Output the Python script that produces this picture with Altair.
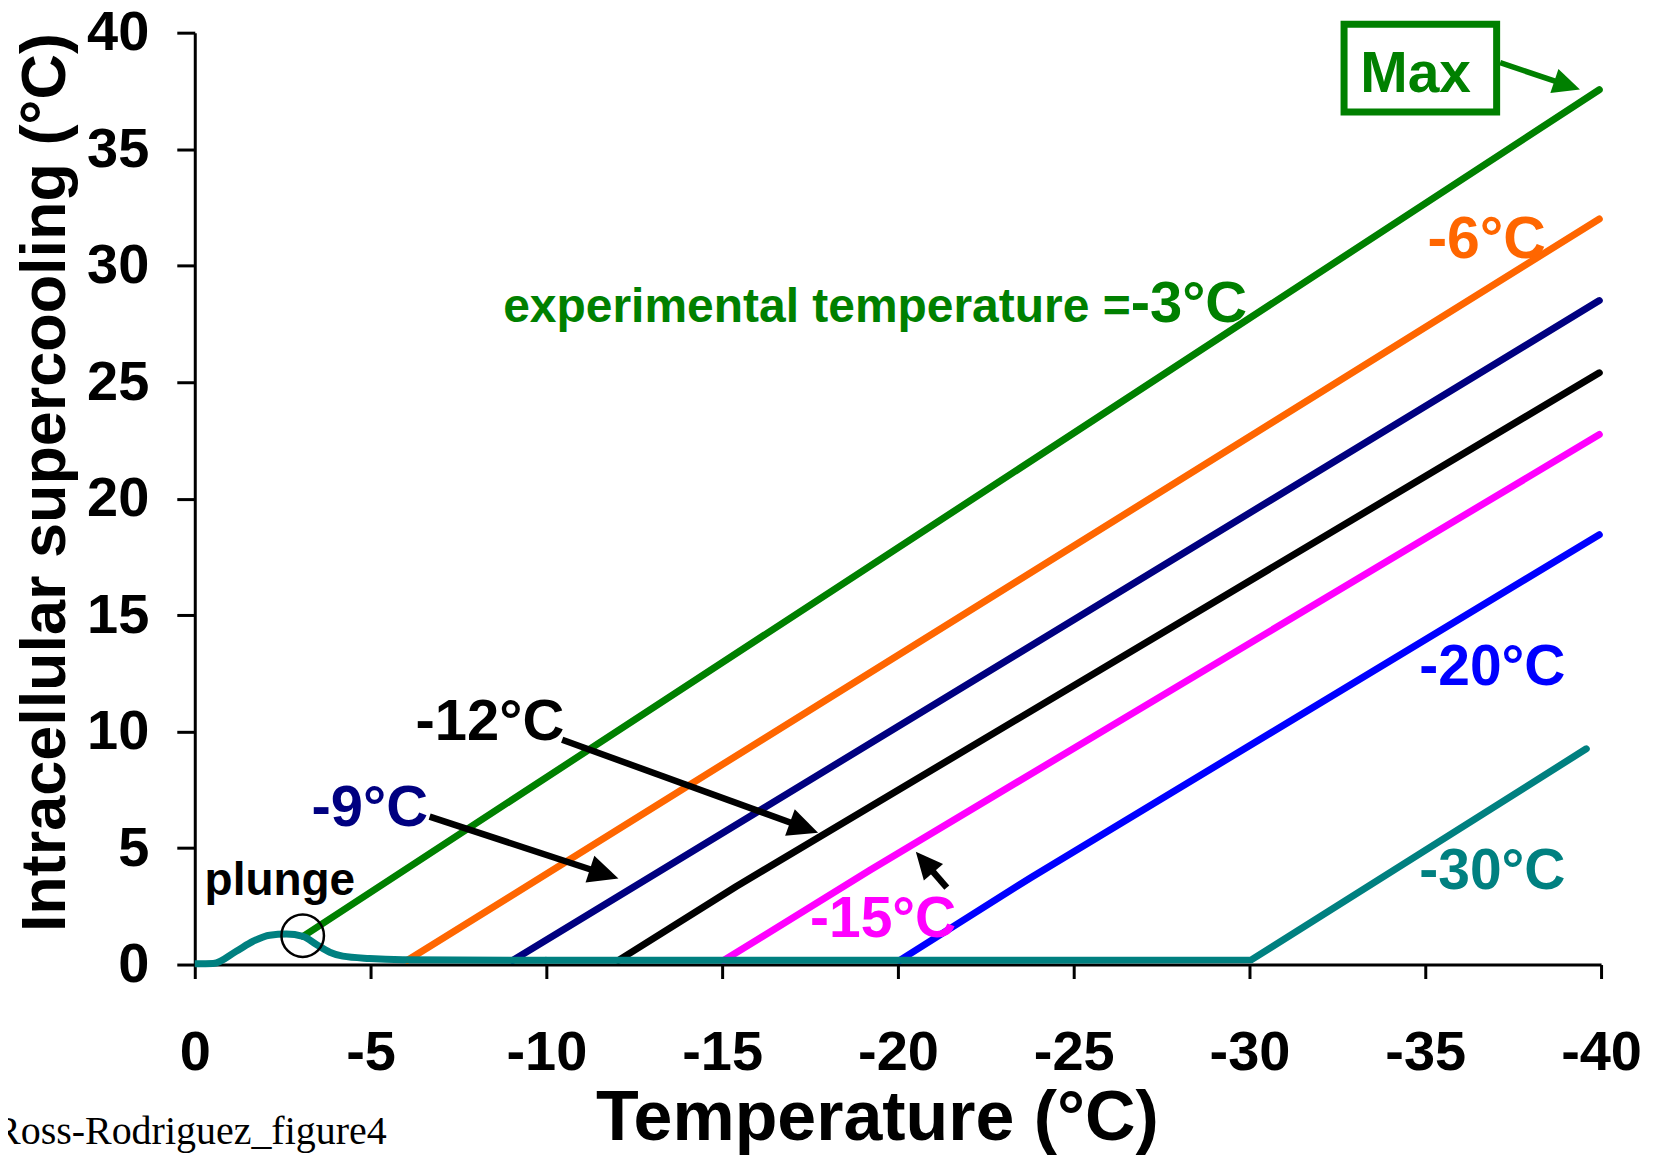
import math
import altair as alt
import pandas as pd

# ---------------- data ----------------
x_ticks = [0, -5, -10, -15, -20, -25, -30, -35, -40]
y_ticks = [0, 5, 10, 15, 20, 25, 30, 35, 40]

GREEN = "#008000"
ORANGE = "#FF6600"
NAVY = "#000080"
BLACK = "#000000"
MAGENTA = "#FF00FF"
BLUE = "#0000FF"
TEAL = "#008080"

series_names = ["-3°C", "-6°C", "-9°C", "-12°C", "-15°C", "-20°C"]
series_colors = [GREEN, ORANGE, NAVY, BLACK, MAGENTA, BLUE]

green_x = [-3.08, -39.95]
green_y = [1.21, 37.55]
orange_x = [-6.05, -39.95]
orange_y = [0.18, 32.0]
navy_x = [-9.05, -39.95]
navy_y = [0.18, 28.5]
black_x = [-12.05, -15.4, -39.95]
black_y = [0.18, 3.35, 25.4]
magenta_x = [-15.05, -19.2, -39.95]
magenta_y = [0.18, 4.05, 22.75]
blue_x = [-20.05, -23.8, -39.95]
blue_y = [0.18, 3.75, 18.45]

# -30 °C curve: plunge bump part (smooth) and the rest
bump_x = [0, -0.52, -1.18, -1.66, -2.13, -2.6, -3.08, -3.46, -3.84, -4.21, -4.97, -5.92, -10]
bump_y = [0.03, 0.04, 0.57, 1.0, 1.26, 1.31, 1.21, 0.86, 0.53, 0.36, 0.26, 0.21, 0.18]
teal_x = [-10, -20, -30.05, -39.58]
teal_y = [0.18, 0.18, 0.2, 9.26]

# labels (left aligned, bold)
label_text = ["-3°C", "-6°C", "-9°C", "-12°C", "-15°C", "-20°C", "-30°C", "plunge", "Max"]
label_x = [-26.62, -35.06, -3.32, -6.28, -17.5, -34.83, -34.83, -0.28, -33.15]
label_y = [27.57, 30.31, 5.96, 9.65, 1.2, 12.0, 3.26, 3.0, 37.47]
label_color = [GREEN, ORANGE, NAVY, BLACK, MAGENTA, BLUE, TEAL, BLACK, GREEN]
label_size = [58, 59, 58, 58, 57, 57, 57, 46, 57]

exp_text = ["experimental temperature ="]
exp_x = [-26.62]
exp_y = [27.57]

note_text = ["Ross-Rodriguez_figure4"]
note_x = [5.71]
note_y = [-7.72]

# arrows
arrow_x_start = [-37.13, -10.45, -6.68, -21.39]
arrow_y_start = [38.71, 9.65, 6.35, 3.30]
arrow_x_tip = [-39.40, -17.73, -12.05, -20.51]
arrow_y_tip = [37.56, 5.66, 3.69, 4.84]
arrow_color = [GREEN, BLACK, BLACK, BLACK]
arrow_width = [5.5, 6.5, 6.5, 6.5]
arrow_head = [27, 30, 30, 27]

# Max box
box_x = [-32.69]
box_x2 = [-37.03]
box_y = [40.36]
box_y2 = [36.59]

# plunge circle
circle_x = [-3.07]
circle_y = [1.24]

# ---------------- layout ----------------
W, H = 1408, 933
FONT = "Liberation Sans"
LW = 7

lines_rows = []
for name, xs, ys in zip(series_names,
                        [green_x, orange_x, navy_x, black_x, magenta_x, blue_x],
                        [green_y, orange_y, navy_y, black_y, magenta_y, blue_y]):
    for i, (a, b) in enumerate(zip(xs, ys)):
        lines_rows.append({"series": name, "x": a, "y": b, "idx": i})
lines_df = pd.DataFrame(lines_rows)

bump_df = pd.DataFrame({"x": bump_x, "y": bump_y, "idx": list(range(len(bump_x)))})
teal_df = pd.DataFrame({"x": teal_x, "y": teal_y, "idx": list(range(len(teal_x)))})

kx = W / 40.0
ky = H / 40.0
shaft_rows, head_rows = [], []
for xs, ys, xt, yt, c, w, hl in zip(arrow_x_start, arrow_y_start, arrow_x_tip, arrow_y_tip,
                                    arrow_color, arrow_width, arrow_head):
    dpx = -(xt - xs) * kx
    dpy = -(yt - ys) * ky
    L = math.hypot(dpx, dpy)
    ux, uy = dpx / L, dpy / L
    ang = math.degrees(math.atan2(ux, -uy)) % 360
    xe = xt + ux * hl * 0.6 / kx
    ye = yt + uy * hl * 0.6 / ky
    shaft_rows.append({"x": xs, "y": ys, "x2": xe, "y2": ye, "c": c, "w": w})
    head_rows.append({"x": xt, "y": yt, "c": c, "ang": ang, "s": (2 * hl) ** 2})
shaft_df = pd.DataFrame(shaft_rows)
head_df = pd.DataFrame(head_rows)

labels_df = pd.DataFrame({"t": label_text, "x": label_x, "y": label_y,
                          "c": label_color, "fs": label_size})
exp_df = pd.DataFrame({"t": exp_text, "x": exp_x, "y": exp_y})
note_df = pd.DataFrame({"t": note_text, "x": note_x, "y": note_y})
box_df = pd.DataFrame({"x": box_x, "x2": box_x2, "y": box_y, "y2": box_y2})
circle_df = pd.DataFrame({"x": circle_x, "y": circle_y})

X_ENC = alt.X(
    "x:Q",
    scale=alt.Scale(domain=[0, -40], nice=False, zero=False),
    axis=alt.Axis(
        values=x_ticks, labelExpr="'' + datum.value", title="Temperature (°C)",
        grid=False, domainColor="black", domainWidth=3, tickColor="black", tickWidth=3,
        tickSize=14, labelFont=FONT, labelFontWeight="bold", labelFontSize=56,
        labelColor="black", labelPadding=47, labelFlush=False, labelOverlap=False,
        titleFont=FONT, titleFontWeight="bold", titleFontSize=70, titleColor="black",
        titleX=683, titleY=175, titleAlign="center", titleBaseline="alphabetic",
    ),
)
Y_ENC = alt.Y(
    "y:Q",
    scale=alt.Scale(domain=[0, 40], nice=False, zero=False),
    axis=alt.Axis(
        values=y_ticks, title="Intracellular supercooling (°C)",
        grid=False, domainColor="black", domainWidth=3, tickColor="black", tickWidth=3,
        tickSize=18, labelFont=FONT, labelFontWeight="bold", labelFontSize=56,
        labelColor="black", labelPadding=28, labelFlush=False, labelOverlap=False,
        titleFont=FONT, titleFontWeight="bold", titleFontSize=63, titleColor="black",
        titleAngle=270, titleX=-130, titleY=450, titleAlign="center",
        titleBaseline="alphabetic",
    ),
)

lines = alt.Chart(lines_df).mark_line(strokeWidth=LW, strokeCap="round", strokeJoin="round").encode(
    x=X_ENC, y=Y_ENC,
    color=alt.Color("series:N", scale=alt.Scale(domain=series_names, range=series_colors), legend=None),
    order=alt.Order("idx:Q"),
)

bump = alt.Chart(bump_df).mark_line(
    strokeWidth=LW, strokeCap="butt", strokeJoin="round", color=TEAL, interpolate="monotone"
).encode(x=X_ENC, y=Y_ENC, order=alt.Order("idx:Q"))

teal = alt.Chart(teal_df).mark_line(strokeWidth=LW, strokeCap="round", strokeJoin="round", color=TEAL).encode(
    x=X_ENC, y=Y_ENC, order=alt.Order("idx:Q"),
)

shafts = alt.Chart(shaft_df).mark_rule(strokeCap="butt").encode(
    x=X_ENC, y=Y_ENC, x2="x2:Q", y2="y2:Q",
    color=alt.Color("c:N", scale=None),
    strokeWidth=alt.StrokeWidth("w:Q", scale=None),
)

heads = alt.Chart(head_df).mark_point(
    shape="M0,0L0.47,1L-0.47,1Z", filled=True, opacity=1, strokeWidth=0
).encode(
    x=X_ENC, y=Y_ENC,
    color=alt.Color("c:N", scale=None),
    angle=alt.Angle("ang:Q", scale=None),
    size=alt.Size("s:Q", scale=None),
)

labels = alt.Chart(labels_df).mark_text(
    font=FONT, fontWeight="bold", align="left", baseline="alphabetic"
).encode(
    x=X_ENC, y=Y_ENC, text="t:N",
    color=alt.Color("c:N", scale=None),
    size=alt.Size("fs:Q", scale=None),
)

exp_label = alt.Chart(exp_df).mark_text(
    font=FONT, fontWeight="bold", align="right", baseline="alphabetic", fontSize=48, color=GREEN
).encode(x=X_ENC, y=Y_ENC, text="t:N")

note = alt.Chart(note_df).mark_text(
    font="Liberation Serif", align="left", baseline="alphabetic", fontSize=40, color="black"
).encode(x=X_ENC, y=Y_ENC, text="t:N")

box = alt.Chart(box_df).mark_rect(fillOpacity=0, stroke=GREEN, strokeWidth=7).encode(
    x=X_ENC, y=Y_ENC, x2="x2:Q", y2="y2:Q"
)

circle = alt.Chart(circle_df).mark_point(
    shape="circle", filled=False, color="black", strokeWidth=2.5, size=1810, opacity=1
).encode(x=X_ENC, y=Y_ENC)

chart = alt.layer(
    lines, teal, bump, shafts, heads, box, labels, exp_label, note, circle
).properties(
    width=W, height=H,
    autosize=alt.AutoSizeParams(type="none"),
    padding={"left": 187, "top": 24, "right": 45, "bottom": 190},
).configure_view(strokeOpacity=0)

chart.save("out.html", embed_options={"renderer": "svg", "actions": False})
